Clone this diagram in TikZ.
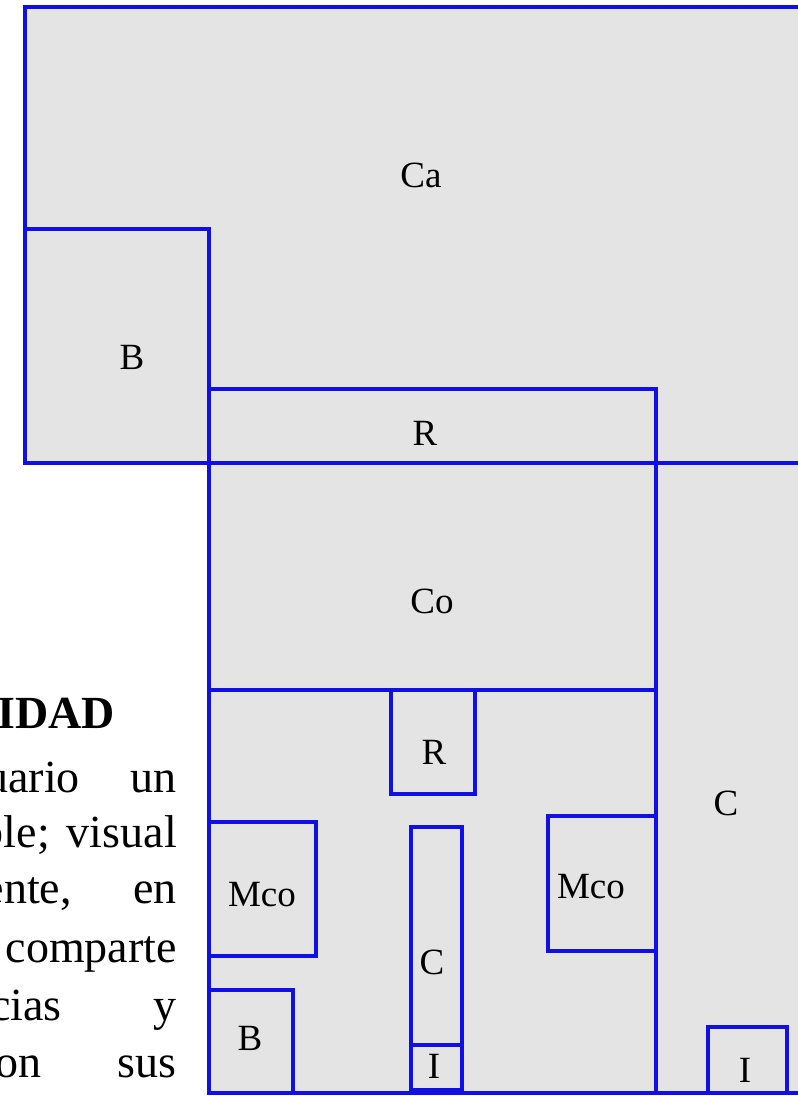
\documentclass[tikz,border=0pt]{standalone}
\usepackage{fontspec}
\setmainfont{Liberation Serif}
\definecolor{edgeblue}{RGB}{15,15,230}
\definecolor{areagray}{RGB}{228,228,228}
\begin{document}
\begin{tikzpicture}[x=1pt,y=-1pt,
  area/.style={draw=edgeblue, fill=areagray, line width=3.4pt, line join=miter},
  lbl/.style={font=\fontsize{37}{40}\selectfont, inner sep=0pt, anchor=center},
  txt/.style={font=\fontsize{46}{50}\selectfont, inner sep=0pt, anchor=base east},
  head/.style={font=\fontsize{46}{50}\selectfont\bfseries, inner sep=0pt, anchor=base east}]
\useasboundingbox (0,0) rectangle (798,1096);
\fill[white] (0,0) rectangle (798,1096);

% upper block
\draw[area] (25,7) rectangle (810,463);
\draw[area] (25,229) rectangle (209,463);
\draw[area] (209,389) rectangle (656,463);
% middle and lower
\draw[area] (209,463) rectangle (656,690);
\draw[area] (656,463) rectangle (810,1093);
\draw[area] (209,690) rectangle (656,1093);
% inner boxes
\draw[area] (391,690) rectangle (475,794);
\draw[area] (209,822) rectangle (316,956);
\draw[area] (548,816) rectangle (656,951);
\draw[area] (411,827) rectangle (462,1045);
\draw[area] (411,1045) rectangle (462,1090);
\draw[area] (209,990) rectangle (293,1093);
\draw[area] (708,1027) rectangle (787,1093);

% labels
\node[lbl] (ca) at (421,175) {Ca};
\node[lbl] (b1) at (132,357) {B};
\node[lbl] (r1) at (425,433) {R};
\node[lbl] (co) at (432,601) {Co};
\node[lbl] (r2) at (434,752) {R};
\node[lbl] (m1) at (262,895) {Mco};
\node[lbl] (m2) at (591,887) {Mco};
\node[lbl] (c1) at (432,962) {C};
\node[lbl] (i1) at (434,1066) {I};
\node[lbl] (b2) at (250,1038) {B};
\node[lbl] (c2) at (726,803) {C};
\node[lbl] (i2) at (745,1070) {I};

% cut-off text on the left
\node[head] (h) at (115,728) {IDAD};
\node[txt] (l1a) at (80,792) {uario};
\node[txt] (l1b) at (177,792) {un};
\node[txt] (l2a) at (50,847) {ble;};
\node[txt] (l2b) at (177,847) {visual};
\node[txt] (l3a) at (72,903) {ente,};
\node[txt] (l3b) at (177,903) {en};
\node[txt] (l4) at (177,962) {comparte};
\node[txt] (l5a) at (62,1020) {cias};
\node[txt] (l5b) at (177,1020) {y};
\node[txt] (l6a) at (42,1077) {on};
\node[txt] (l6b) at (177,1077) {sus};
\end{tikzpicture}
\end{document}
